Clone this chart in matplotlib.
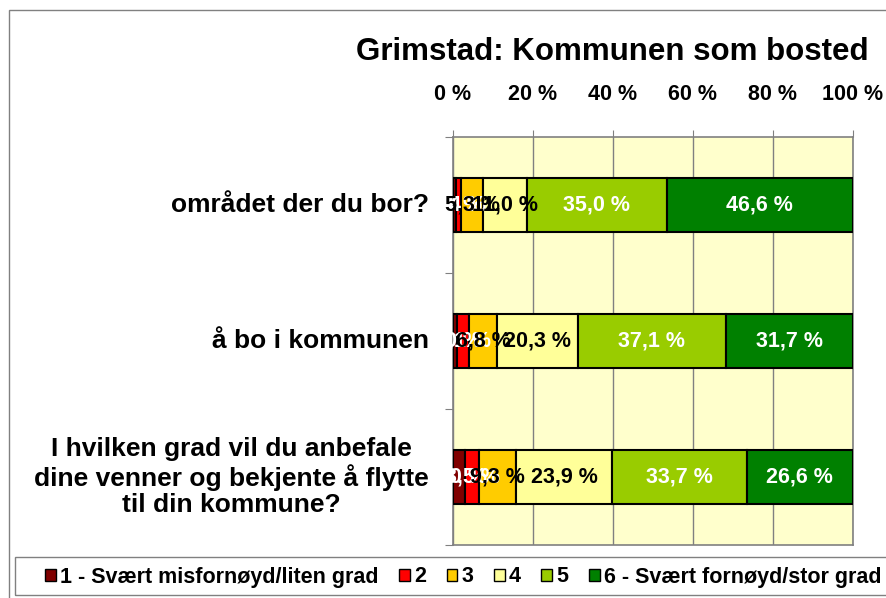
import matplotlib.pyplot as plt
from matplotlib.patches import Patch, Rectangle
import numpy as np

plt.rcParams['font.family'] = ['Liberation Sans', 'DejaVu Sans']
plt.rcParams['font.weight'] = 'bold'

questions = [
    'området der du bor?',
    'å bo i kommunen',
    'I hvilken grad vil du anbefale\ndine venner og bekjente å flytte\ntil din kommune?',
]
levels = ['1 - Svært misfornøyd/liten grad', '2', '3', '4', '5',
          '6 - Svært fornøyd/stor grad']
shares = np.array([
    [0.7, 1.4, 5.3, 11.0, 35.0, 46.6],
    [1.0, 3.1, 6.8, 20.3, 37.1, 31.7],
    [3.0, 3.5, 9.3, 23.9, 33.7, 26.6],
])
colors = ['#800000', '#FF0000', '#FFCC00', '#FFFF99', '#99CC00', '#008000']
label_colors = ['white', 'white', 'black', 'black', 'white', 'white']

fig = plt.figure(figsize=(8.86, 5.98), dpi=100)
# outer chart border and the legend box
fig.patches.append(Rectangle((9 / 886, -0.01), 1.0, 1 - 10 / 598 + 0.01,
                             transform=fig.transFigure, fill=False,
                             edgecolor='#808080', lw=1))
fig.patches.append(Rectangle((15 / 886, 3 / 598), 1.0, 38 / 598,
                             transform=fig.transFigure, fill=False,
                             edgecolor='#808080', lw=1))

ax = fig.add_axes([453 / 886, 53 / 598, 400 / 886, 408 / 598])
ax.set_facecolor('#FFFFCC')

y = np.arange(len(questions)) + 0.5
left = np.zeros(len(questions))
for j in range(len(levels)):
    ax.barh(y, shares[:, j], left=left, height=0.39, color=colors[j],
            edgecolor='black', linewidth=1.5, label=levels[j], zorder=3)
    for i in range(len(questions)):
        ax.text(left[i] + shares[i, j] / 2, y[i],
                f'{shares[i, j]:.1f} %'.replace('.', ','),
                ha='center', va='center', fontsize=15.5, fontweight='bold',
                color=label_colors[j], zorder=4)
    left += shares[:, j]

ax.set_xlim(0, 100)
ax.set_ylim(3, 0)
ax.xaxis.tick_top()
ax.set_xticks(range(0, 101, 20))
ax.set_xticklabels([f'{v} %' for v in range(0, 101, 20)], fontsize=15.5,
                   fontweight='bold')
ax.tick_params(axis='x', direction='out', length=5, pad=18, color='#808080')
ax.set_yticks([0, 1, 2, 3])
ax.set_yticklabels([])
ax.tick_params(axis='y', direction='out', length=6, color='#808080')
ax.grid(axis='x', color='#808080', lw=1, zorder=1)
for s in ax.spines.values():
    s.set_color('#808080')
    s.set_linewidth(1.2)

for i, q in enumerate(questions):
    ax.text(-0.06, 1 - (i + 0.5) / 3, q, transform=ax.transAxes,
            ha='right', va='center', multialignment='center',
            fontsize=19, fontweight='bold', linespacing=1.15)

fig.text(612 / 886, 1 - 52 / 598, 'Grimstad: Kommunen som bosted',
         ha='center', va='center', fontsize=22.5, fontweight='bold')

handles = [Patch(facecolor=c, edgecolor='black', lw=1) for c in colors]
leg = fig.legend(handles, levels, loc='center left', ncol=6,
                 bbox_to_anchor=(45 / 886, 1 - 577 / 598), frameon=False,
                 fontsize=15.5, borderpad=0, borderaxespad=0,
                 handlelength=0.5, handleheight=0.5, handletextpad=0.2,
                 columnspacing=0.95)

fig.savefig('out.png', dpi=100)
